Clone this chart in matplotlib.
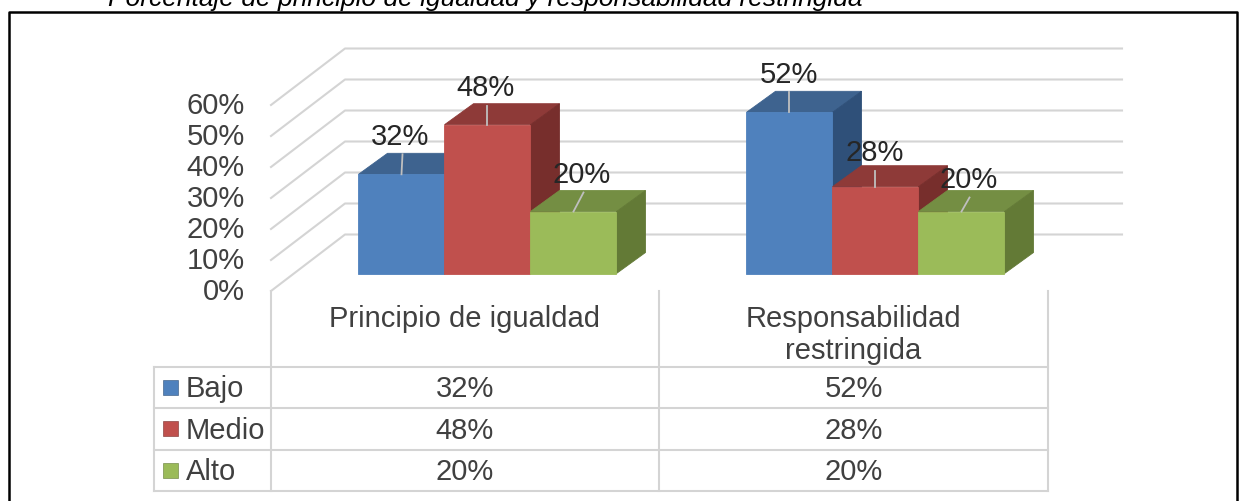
import numpy as np
from matplotlib import pyplot as plt
from matplotlib.patches import Polygon, Rectangle

title = "Porcentaje de principio de igualdad y responsabilidad restringida"
categories = ["Principio de igualdad", "Responsabilidad\nrestringida"]
series_names = ["Bajo", "Medio", "Alto"]
bajo = [32, 52]
medio = [48, 28]
alto = [20, 20]
tick_values = [0, 10, 20, 30, 40, 50, 60]

# colours per series: front, top, side
front_colors = ["#4F81BD", "#C0504D", "#9BBB59"]
top_colors = ["#3E638F", "#8E3A38", "#748E43"]
side_colors = ["#2F5079", "#772E2C", "#637A36"]
grid_color = "#D4D4D4"
text_color = "#404040"

# layout in image pixels
px_per_unit = 3.1
bar_base = 274.5
wall_back_zero = 235.5
wall_front_zero = 292
wall_back_x = 345
wall_front_x = 271
wall_right_x = 1122
group_left = [358.5, 746.5]
bar_width = 86
depth_x = 29
depth_y = 21
table_rows = [367.5, 408.5, 450.5, 491.5]
table_cols = [154, 271, 659, 1048]
label_dx = [[-1, -1], [-2, -1], [8, 7]]
label_dy = [[40, 40], [39, 36], [39, 34]]
leader_top = [[1, 0], [0, 0], [10, 8]]
leader_len = [[20, 20], [19, 16], [19, 14]]
font = "Liberation Sans"
size = 21
text_dy = 1.5


def y_of(value, zero=bar_base):
    return zero - px_per_unit * value


def draw_bar(x, value, i):
    top = y_of(value)
    dx, dy = depth_x, depth_y
    ax.add_patch(Polygon([(x, top), (x + dx, top - dy), (x + bar_width + dx, top - dy), (x + bar_width, top)],
                         fc=top_colors[i], ec=top_colors[i], lw=0.6, zorder=3))
    ax.add_patch(Polygon([(x + bar_width, top), (x + bar_width + dx, top - dy),
                          (x + bar_width + dx, bar_base - dy), (x + bar_width, bar_base)],
                         fc=side_colors[i], ec=side_colors[i], lw=0.6, zorder=3))
    ax.add_patch(Rectangle((x, top), bar_width, bar_base - top, fc=front_colors[i], ec=front_colors[i],
                           lw=0.6, zorder=3))


fig = plt.figure(figsize=(12.43, 5.02), dpi=100)
ax = fig.add_axes([0, 0, 1, 1])
ax.set_xlim(0, 1243)
ax.set_ylim(502, 0)
ax.axis("off")

# page frame around the chart
ax.plot([9, 9, 1237, 1237], [502, 12.5, 12.5, 502], color="black", lw=1.8, zorder=1)
ax.text(485, -1, title, family=font, style="italic", fontsize=19, color="black", ha="center", va="center")

# walls
for v in tick_values:
    back_y = y_of(v, wall_back_zero)
    front_y = y_of(v, wall_front_zero)
    ax.plot([wall_front_x, wall_back_x, wall_right_x], [front_y, back_y, back_y], color=grid_color, lw=1.5, zorder=2)
    ax.text(245, front_y + 0.5, f"{v}%", family=font, fontsize=size, color=text_color, ha="right", va="center")

# bars, left to right so the tops overlap the neighbouring sides
series = [bajo, medio, alto]
for g in range(len(categories)):
    for i, values in enumerate(series):
        draw_bar(group_left[g] + i * bar_width, values[g], i)

# data labels with their leader lines
for g in range(len(categories)):
    for i, values in enumerate(series):
        cx = group_left[g] + (i + 0.5) * bar_width
        top = y_of(values[g])
        ax.plot([cx, cx + leader_top[i][g]], [top, top - leader_len[i][g]], color="#BFBFBF", lw=1.3, zorder=4)
        ax.text(cx + label_dx[i][g], top - label_dy[i][g] + text_dy, f"{values[g]}%", family=font, fontsize=size,
                color="#262626", ha="center", va="center", zorder=5)

# data table
for y in table_rows:
    ax.plot([table_cols[0], table_cols[-1]], [y, y], color=grid_color, lw=1.5, zorder=2)
for x in table_cols[1:]:
    ax.plot([x, x], [wall_front_zero, table_rows[-1]], color=grid_color, lw=1.5, zorder=2)
ax.plot([table_cols[0], table_cols[0]], [table_rows[0], table_rows[-1]], color=grid_color, lw=1.5, zorder=2)

for g, name in enumerate(categories):
    cx = (table_cols[g + 1] + table_cols[g + 2]) / 2
    for n, part in enumerate(name.split("\n")):
        ax.text(cx, 318 + n * 32 + text_dy, part, family=font, fontsize=size, color=text_color,
                ha="center", va="center")

for i, name in enumerate(series_names):
    row_y = (table_rows[i] + table_rows[i + 1]) / 2
    ax.add_patch(Rectangle((163, row_y - 7.5), 15, 15, fc=front_colors[i], ec=side_colors[i], lw=0.4, zorder=3))
    ax.text(186, row_y + text_dy, name, family=font, fontsize=size, color=text_color, ha="left", va="center")
    for g in range(len(categories)):
        cx = (table_cols[g + 1] + table_cols[g + 2]) / 2
        ax.text(cx, row_y + text_dy, f"{series[i][g]}%", family=font, fontsize=size, color=text_color,
                ha="center", va="center")

fig.savefig("out.png", dpi=100)
